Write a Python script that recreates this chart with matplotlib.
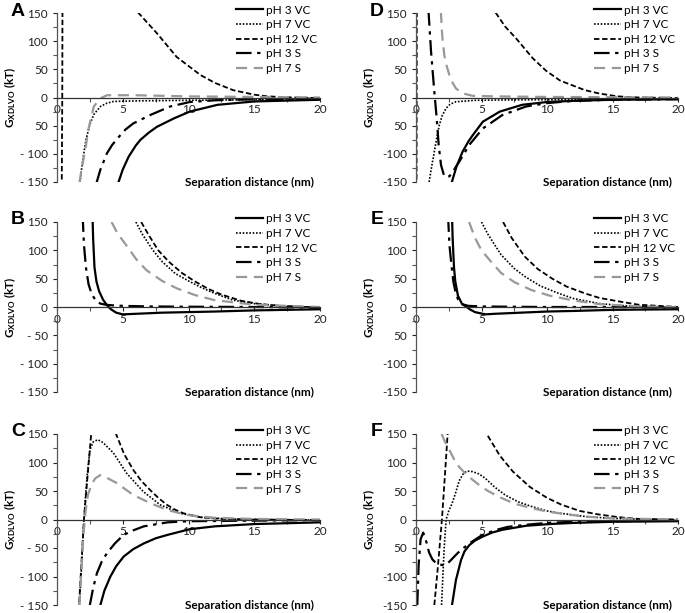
import matplotlib
matplotlib.use('Agg')
import matplotlib.pyplot as plt
from matplotlib.ticker import MultipleLocator

plt.rcParams['font.family'] = ['Lato', 'DejaVu Sans']
plt.rcParams['mathtext.fontset'] = 'custom'
plt.rcParams['mathtext.bf'] = 'Lato:bold'
plt.rcParams['mathtext.rm'] = 'Lato'

series_names = ["pH 3 VC", "pH 7 VC", "pH 12 VC", "pH 3 S", "pH 7 S"]
panel_letters = ["A", "B", "C", "D", "E", "F"]
x_ticks = [0, 5, 10, 15, 20]
y_ticks = [-150, -100, -50, 0, 50, 100, 150]
# tick labels as printed in each panel of the original
y_labels_left = ["- 150", "- 100", "- 50", "0", "50", "100", "150"]
y_labels_left_a = ["- 150", "- 100", "50", "0", "50", "100", "150"]
y_labels_right = ["-150", "-100", "50", "0", "50", "100", "150"]

# panel A
a_ph3vc_x = [4.65, 5, 5.45, 6, 6.35, 7, 7.6, 8.9, 10.1, 12.2, 15, 20]
a_ph3vc_y = [-152, -128, -105, -85, -75, -62, -52, -37, -25, -13, -7, -4]
a_ph7vc_x = [1.75, 1.85, 2.0, 2.2, 2.5, 2.8, 3.3, 3.8, 4.3, 6, 10, 15, 20]
a_ph7vc_y = [-152, -130, -105, -75, -48, -30, -16, -10, -7, -6, -5, -4, -3]
a_ph12vc_x = [0.36, 0.4, 0.44, 4, 5, 6.2, 7.6, 9.1, 10.9, 12, 13.4, 15, 16, 18, 20]
a_ph12vc_y = [-160, 0, 400, 235, 190, 150, 114, 72, 40, 26, 13, 5, 2, 0, -1]
a_ph3s_x = [3.0, 3.3, 3.8, 4.2, 4.7, 5.2, 5.8, 7.1, 8.6, 10.1, 12, 15, 20]
a_ph3s_y = [-152, -128, -99, -84, -70, -57, -46, -31, -16, -8, -5, -3, -2]
a_ph7s_x = [1.7, 1.9, 2.15, 2.4, 2.8, 3.3, 3.8, 6, 10, 15, 20]
a_ph7s_y = [-152, -123, -93, -55, -16, -1.5, 4, 4, 2, 1, 0]

# panel B
b_ph3vc_x = [2.7, 2.75, 2.85, 3.0, 3.2, 3.5, 3.8, 4.1, 4.5, 5, 6, 8, 10, 12, 15, 20]
b_ph3vc_y = [160, 120, 70, 45, 28, 13, 3, -4, -10, -13, -12, -10, -9, -8, -6, -4]
b_ph7vc_x = [6.0, 6.5, 7.3, 8, 9, 10, 11, 12, 13.4, 15, 17, 20]
b_ph7vc_y = [150, 128, 100, 80, 59, 46, 34, 24, 12, 6, 2, -1]
b_ph12vc_x = [6.4, 7, 7.7, 8.5, 9.5, 10.5, 11.5, 12.5, 14, 15.5, 17, 20]
b_ph12vc_y = [150, 126, 100, 80, 60, 45, 32, 22, 11, 5, 2, -1]
b_ph3s_x = [1.95, 2.05, 2.2, 2.4, 2.65, 3.0, 3.3, 3.7, 4.2, 5, 7, 10, 15, 20]
b_ph3s_y = [160, 110, 70, 40, 22, 10, 6, 4, 3, 2, 1, 0.5, 0, -1]
b_ph7s_x = [4.15, 4.6, 5.3, 6, 6.8, 8, 9.1, 10.5, 12, 15, 20]
b_ph7s_y = [150, 130, 108, 85, 65, 46, 33, 21, 12, 4, 0]

# panel C
c_ph3vc_x = [3.3, 3.6, 4.06, 4.5, 5.07, 5.8, 6.6, 7.5, 8.4, 10.1, 12, 15, 20]
c_ph3vc_y = [-150, -125, -100, -82, -65, -52, -42, -33, -27, -17, -12, -8, -5]
c_ph7vc_x = [1.7, 1.85, 2.0, 2.15, 2.3, 2.5, 2.75, 3.1, 3.5, 4.28, 5.3, 6.56, 7.83, 9.35,
             10.9, 13, 15, 20]
c_ph7vc_y = [-150, -90, -20, 35, 78, 122, 136, 140, 135, 117, 81, 49, 26, 11, 4, 1, 0, -1]
c_ph12vc_x = [1.65, 1.85, 2.05, 2.3, 2.6, 3.5, 4.49, 5.1, 5.8, 6.4, 7.07, 7.7, 8.34, 9, 9.6,
              10.9, 12.5, 15, 20]
c_ph12vc_y = [-160, -80, 0, 70, 150, 250, 150, 115, 87, 68, 52, 38, 26, 17, 11, 4, 1, 0, -1]
c_ph3s_x = [2.5, 2.75, 3.04, 3.4, 3.8, 4.4, 5.07, 5.8, 6.6, 8.4, 10, 15, 20]
c_ph3s_y = [-150, -120, -94, -74, -59, -42, -27, -19, -12, -5, -3, -2, -1]
c_ph7s_x = [1.7, 1.85, 2.0, 2.15, 2.35, 2.6, 2.9, 3.3, 3.8, 4.54, 5.8, 7.07, 8.34, 9.86, 12,
            15, 20]
c_ph7s_y = [-150, -90, -30, 10, 43, 60, 72, 78, 73, 64, 43, 29, 17, 8, 3, 1, 0]

# panel D
d_ph3vc_x = [2.75, 3.1, 3.56, 4, 4.33, 5.1, 6.4, 8.1, 10, 12, 15, 20]
d_ph3vc_y = [-149, -122, -96, -78, -67, -43, -25, -13, -8, -6, -4, -3]
d_ph7vc_x = [1.0, 1.2, 1.4, 1.6, 1.78, 2.0, 2.3, 2.6, 3.05, 4.5, 8, 12, 20]
d_ph7vc_y = [-150, -122, -96, -70, -49, -32, -19, -12, -7.5, -5, -4, -4, -3]
d_ph12vc_x = [0.04, 0.08, 4, 5, 6.1, 6.8, 7.64, 8.9, 9.9, 11, 12.9, 14, 15.4, 17, 20]
d_ph12vc_y = [-160, 400, 240, 190, 150, 126, 105, 70, 48, 30, 13, 7, 2, 0, -1]
d_ph3s_x = [0.95, 1.15, 1.4, 1.58, 1.73, 1.91, 2.16, 2.55, 2.8, 3.3, 4.07, 5.1, 6.6, 8.4, 10,
            12, 15, 20]
d_ph3s_y = [155, 81, 10, -37, -84, -120, -140, -140, -132, -114, -84, -55, -31, -16, -10,
            -6, -4, -3]
d_ph7s_x = [1.9, 2.0, 2.16, 2.35, 2.55, 2.8, 3.05, 3.56, 4.3, 6, 10, 15, 20]
d_ph7s_y = [152, 110, 75, 55, 40, 26, 16, 7.5, 3, 2, 1, 0.5, 0]

# panel E
e_ph3vc_x = [2.75, 2.8, 2.9, 3.0, 3.2, 3.5, 3.8, 4.1, 4.5, 5.3, 6, 8, 10, 12, 15, 20]
e_ph3vc_y = [160, 120, 70, 45, 20, 6, 1, -4, -9, -13, -12, -10, -8, -7, -5, -4]
e_ph7vc_x = [5.0, 5.5, 6.5, 7.5, 8.3, 9.5, 10.9, 12, 14, 16, 20]
e_ph7vc_y = [150, 128, 92, 68, 54, 37, 24, 15, 6, 2, -1]
e_ph12vc_x = [6.65, 7.3, 8.3, 9.3, 10.4, 11.5, 12.9, 14, 15.7, 17, 20]
e_ph12vc_y = [150, 122, 89, 67, 50, 36, 24, 16, 9, 4, 0]
e_ph3s_x = [2.45, 2.55, 2.7, 2.85, 3.0, 3.2, 3.5, 4, 5, 7, 10, 15, 20]
e_ph3s_y = [160, 110, 75, 45, 28, 14, 5, 2, 1, 0.5, 0, 0, -1]
e_ph7s_x = [4.05, 4.5, 5, 5.8, 6.5, 7.5, 8.8, 10.2, 11.9, 14, 17, 20]
e_ph7s_y = [150, 122, 100, 78, 60, 44, 30, 20, 12, 5, 1, 0]

# panel F
f_ph3vc_x = [2.75, 3.05, 3.44, 3.7, 4.07, 4.5, 5.09, 5.8, 6.6, 8.4, 10.2, 12, 15, 20]
f_ph3vc_y = [-150, -106, -71, -56, -45, -37, -30, -23, -18, -11, -8, -6, -4, -3]
f_ph7vc_x = [1.95, 2.05, 2.15, 2.3, 2.5, 2.75, 3.0, 3.3, 3.6, 3.9, 4.3, 4.8, 5.3, 6, 6.8, 7.8,
             8.8, 10, 11, 13, 15, 18, 20]
f_ph7vc_y = [-150, -100, -50, 0, 15, 28, 45, 68, 80, 85, 84, 80, 72, 57, 43, 31, 23, 15, 11,
             5, 2, 0, -1]
f_ph12vc_x = [1.4, 1.65, 1.98, 2.2, 2.42, 3.5, 4.5, 5.4, 6.4, 7.4, 8.7, 10, 11.1, 12.5, 13.9,
              15.5, 17, 20]
f_ph12vc_y = [-150, -88, 0, 75, 152, 300, 220, 150, 112, 84, 57, 38, 26, 15, 9, 4, 1, 0]
f_ph3s_x = [0.1, 0.2, 0.35, 0.55, 0.8, 1.0, 1.25, 1.55, 2.0, 2.3, 2.55, 2.8, 3.05, 3.4, 3.8,
            4.2, 5, 6, 7, 8.5, 10, 12, 15, 20]
f_ph3s_y = [-150, -80, -35, -23, -40, -58, -70, -77, -80, -79, -74, -68, -62, -54, -47, -40,
            -28, -19, -13, -9, -6, -4, -3, -2]
f_ph7s_x = [1.95, 2.2, 2.5, 2.9, 3.3, 3.8, 4.3, 4.8, 5.5, 6.5, 7.5, 8.8, 10, 11.5, 13, 15, 20]
f_ph7s_y = [150, 137, 124, 106, 92, 80, 70, 61, 50, 38, 28, 20, 14, 9, 5, 2, 0]

panels = {
    "A": [(a_ph3vc_x, a_ph3vc_y), (a_ph7vc_x, a_ph7vc_y), (a_ph12vc_x, a_ph12vc_y),
          (a_ph3s_x, a_ph3s_y), (a_ph7s_x, a_ph7s_y)],
    "B": [(b_ph3vc_x, b_ph3vc_y), (b_ph7vc_x, b_ph7vc_y), (b_ph12vc_x, b_ph12vc_y),
          (b_ph3s_x, b_ph3s_y), (b_ph7s_x, b_ph7s_y)],
    "C": [(c_ph3vc_x, c_ph3vc_y), (c_ph7vc_x, c_ph7vc_y), (c_ph12vc_x, c_ph12vc_y),
          (c_ph3s_x, c_ph3s_y), (c_ph7s_x, c_ph7s_y)],
    "D": [(d_ph3vc_x, d_ph3vc_y), (d_ph7vc_x, d_ph7vc_y), (d_ph12vc_x, d_ph12vc_y),
          (d_ph3s_x, d_ph3s_y), (d_ph7s_x, d_ph7s_y)],
    "E": [(e_ph3vc_x, e_ph3vc_y), (e_ph7vc_x, e_ph7vc_y), (e_ph12vc_x, e_ph12vc_y),
          (e_ph3s_x, e_ph3s_y), (e_ph7s_x, e_ph7s_y)],
    "F": [(f_ph3vc_x, f_ph3vc_y), (f_ph7vc_x, f_ph7vc_y), (f_ph12vc_x, f_ph12vc_y),
          (f_ph3s_x, f_ph3s_y), (f_ph7s_x, f_ph7s_y)],
}
tick_texts = {"A": y_labels_left_a, "B": y_labels_left, "C": y_labels_left,
              "D": y_labels_right, "E": y_labels_right, "F": y_labels_right}

styles = [
    dict(color='black', lw=1.6, ls='-'),
    dict(color='black', lw=1.2, ls=(0, (1, 1))),
    dict(color='black', lw=1.3, ls=(0, (3, 1.5))),
    dict(color='black', lw=1.6, ls=(0, (7, 2.5, 1.5, 2.5))),
    dict(color='#999999', lw=1.6, ls=(0, (5, 3))),
]

W, H = 685, 613
# axes boxes in pixels: left, top, right, bottom
boxes = {
    "A": (57, 13, 320, 182), "B": (57, 222, 320, 392), "C": (57, 434, 320, 605),
    "D": (416, 13, 678, 182), "E": (416, 222, 678, 392), "F": (416, 434, 678, 605),
}

fig = plt.figure(figsize=(W / 100, H / 100), dpi=100)

for letter in panel_letters:
    l, t, r, b = boxes[letter]
    ax = fig.add_axes([l / W, 1 - b / H, (r - l) / W, (b - t) / H])
    for (xs, ys), st, name in zip(panels[letter], styles, series_names):
        ax.plot(xs, ys, label=name, **st)
    ax.set_xlim(0, 20)
    ax.set_ylim(-150, 150)
    ax.spines['top'].set_visible(False)
    ax.spines['right'].set_visible(False)
    ax.spines['bottom'].set_position(('data', 0))
    ax.spines['bottom'].set_color('#333333')
    ax.spines['left'].set_color('#555555')
    ax.spines['bottom'].set_linewidth(0.9)
    ax.spines['left'].set_linewidth(0.9)
    ax.set_xticks(x_ticks)
    ax.set_yticks(y_ticks)
    ax.set_yticklabels(tick_texts[letter])
    ax.xaxis.set_minor_locator(MultipleLocator(2.5))
    ax.yaxis.set_minor_locator(MultipleLocator(25))
    ax.tick_params(axis='both', labelsize=8.5, colors='#222222', length=3, width=0.8)
    ax.tick_params(axis='both', which='minor', length=3, width=0.8, color='#555555')
    ax.tick_params(axis='x', pad=2)
    ax.set_ylabel(r'$\mathbf{G_{XDLVO}}$ (kT)', fontsize=8.5, fontweight='bold')
    ax.yaxis.set_label_coords(-0.148, 0.5)
    ax.text(0.73, 0.0, 'Separation distance (nm)', transform=ax.transAxes,
            ha='center', va='center', fontsize=8.5, fontweight='bold')
    ax.legend(loc='upper right', bbox_to_anchor=(0.99, 1.05), frameon=False,
              fontsize=8.5, handlelength=2.3, handletextpad=0.25, labelspacing=0.3,
              borderaxespad=0, borderpad=0)
    fig.text((l - 39) / W, 1 - (t - 2) / H, letter, ha='center', va='center',
             fontsize=14, fontweight='bold', family='Liberation Sans')

fig.savefig('out.png', dpi=100)
